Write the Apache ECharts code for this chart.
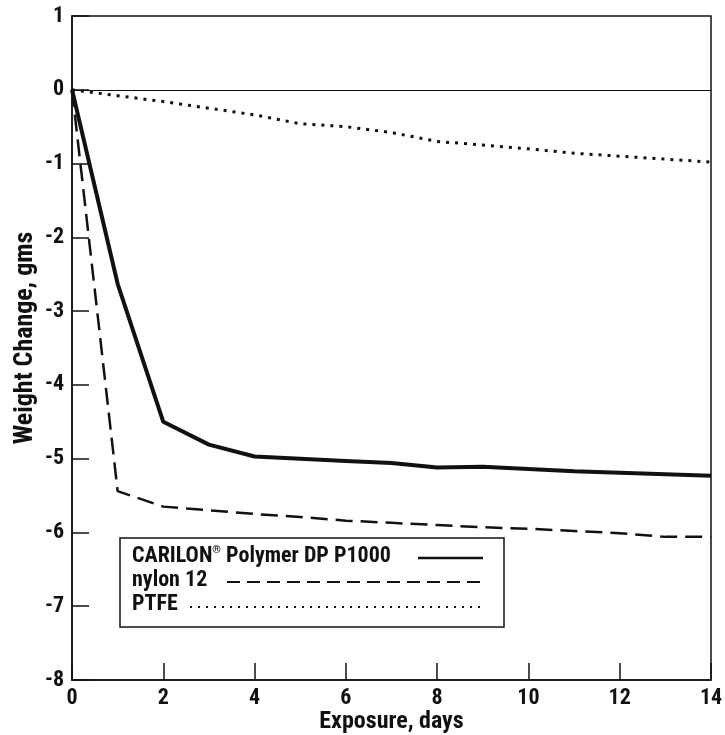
<!DOCTYPE html>
<html><head><meta charset="utf-8">
<script src="https://cdn.jsdelivr.net/npm/echarts@6/dist/echarts.min.js"></script>
<style>html,body{margin:0;padding:0;background:#fff}#c{width:725px;height:735px}</style>
</head><body><div id="c"></div>
<script>
const days = [0,1,2,3,4,5,6,7,8,9,10,11,12,13,14];
const carilon = [0,-2.63,-4.5,-4.81,-4.97,-5.0,-5.03,-5.06,-5.12,-5.11,-5.14,-5.17,-5.19,-5.21,-5.23];
const nylon12 = [0,-5.44,-5.65,-5.7,-5.75,-5.79,-5.84,-5.87,-5.9,-5.93,-5.95,-5.98,-6.01,-6.06,-6.06];
const ptfe = [0,-0.08,-0.16,-0.25,-0.34,-0.46,-0.5,-0.58,-0.7,-0.75,-0.8,-0.86,-0.9,-0.94,-0.98];
const FONT = '"Liberation Sans Narrow","Roboto Condensed",Roboto,"Liberation Sans",Arial,sans-serif';
const pair = (xs, ys) => xs.map((x, i) => [x, ys[i]]);
const chart = echarts.init(document.getElementById('c'));
chart.setOption({
  animation: false,
  backgroundColor: '#fff',
  grid: {left: 72, right: 14, top: 16, bottom: 55, containLabel: false, outerBoundsMode: 'none',
         show: true, borderColor: '#111', borderWidth: 1.5, backgroundColor: 'transparent'},
  xAxis: {
    type: 'value', min: 0, max: 14, interval: 2,
    name: 'Exposure, days', nameLocation: 'middle', nameGap: 29, nameMoveOverlap: false,
    nameTextStyle: {fontFamily: FONT, fontWeight: 'bold', fontSize: 24, color: '#111', verticalAlign: 'top', lineHeight: 26},
    axisLine: {show: true, onZero: false, lineStyle: {color: '#111', width: 1.5}},
    axisTick: {show: true, inside: true, length: 17, lineStyle: {color: '#111', width: 1.5}},
    axisLabel: {fontFamily: FONT, fontWeight: 'bold', fontSize: 22, color: '#111', margin: 7},
    splitLine: {show: false}
  },
  yAxis: {
    type: 'value', min: -8, max: 1, interval: 1,
    name: 'Weight Change, gms', nameLocation: 'middle', nameGap: 34, nameMoveOverlap: false,
    nameTextStyle: {fontFamily: FONT, fontWeight: 'bold', fontSize: 26, color: '#111', padding: [0, 0, 0, 20]},
    axisLine: {show: true, onZero: false, lineStyle: {color: '#111', width: 1.5}},
    axisTick: {show: true, inside: true, length: 17, lineStyle: {color: '#111', width: 1.5}},
    axisLabel: {fontFamily: FONT, fontWeight: 'bold', fontSize: 22, color: '#111', margin: 8},
    splitLine: {show: false}
  },
  series: [
    {name: 'CARILON', type: 'line', data: pair(days, carilon), showSymbol: false, symbol: 'none',
     lineStyle: {color: '#111', width: 4},
     markLine: {silent: true, symbol: 'none', label: {show: false}, lineStyle: {color: '#111', width: 1.2, type: 'solid'}, data: [{yAxis: 0}]}},
    {name: 'nylon 12', type: 'line', data: pair(days, nylon12), showSymbol: false, symbol: 'none',
     lineStyle: {color: '#111', width: 2.5, type: [17, 8]}},
    {name: 'PTFE', type: 'line', data: pair(days, ptfe), showSymbol: false, symbol: 'none',
     lineStyle: {color: '#111', width: 3, type: [3, 6]}}
  ],
  graphic: [
    {type: 'rect', shape: {x: 120, y: 538, width: 384, height: 89}, style: {fill: '#fff', stroke: '#111', lineWidth: 1.5}},
    {type: 'text', x: 132, y: 545, style: {text: 'CARILON{sup|®} Polymer DP P1000', fontFamily: FONT, fontWeight: 'bold', fontSize: 22, fill: '#111',
      rich: {sup: {fontFamily: FONT, fontWeight: 'bold', fontSize: 11, verticalAlign: 'top', fill: '#111', padding: [0,0,8,0]}}}},
    {type: 'line', shape: {x1: 418, y1: 558, x2: 483, y2: 558}, style: {stroke: '#111', lineWidth: 2.5}},
    {type: 'text', x: 132, y: 569, style: {text: 'nylon 12', fontFamily: FONT, fontWeight: 'bold', fontSize: 22, fill: '#111'}},
    {type: 'line', shape: {x1: 227, y1: 582, x2: 483, y2: 582}, style: {stroke: '#111', lineWidth: 2, lineDash: [13, 7]}},
    {type: 'text', x: 132, y: 593, style: {text: 'PTFE', fontFamily: FONT, fontWeight: 'bold', fontSize: 22, fill: '#111'}},
    {type: 'line', shape: {x1: 190, y1: 607, x2: 483, y2: 607}, style: {stroke: '#111', lineWidth: 2, lineDash: [2, 6]}}
  ]
});
</script></body></html>
